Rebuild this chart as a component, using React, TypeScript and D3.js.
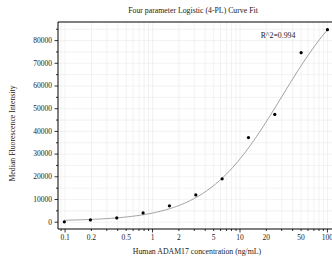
import React from "react";
import * as d3 from "d3";

const concentrations = [0.098, 0.195, 0.39, 0.78, 1.56, 3.125, 6.25, 12.5, 25, 50, 100];
const intensities = [150, 1000, 1900, 4100, 7200, 12000, 19100, 37300, 47500, 74700, 84800];
const xTickValues = [0.1, 0.2, 0.5, 1, 2, 5, 10, 20, 50, 100];
const yTickValues = [0, 10000, 20000, 30000, 40000, 50000, 60000, 70000, 80000];
// fitted 4PL parameters: bottom, top, EC50, slope
const fitA = 500;
const fitD = 110000;
const fitC = 30;
const fitB = 1.0;
const rSquared = "R^2=0.994";
const titleText = "Four parameter Logistic (4-PL) Curve Fit";
const xLabel = "Human ADAM17 concentration (ng/mL)";
const yLabel = "Median Fluorescence Intensity";

const W = 332, H = 264;
const left = 58, right = 335, top = 22, bottom = 229;
const font = "'Liberation Serif', 'Times New Roman', serif";

export default function App() {
  const x = d3.scaleLog().domain([0.083, 122]).range([left, right]);
  const y = d3.scaleLinear().domain([-3000, 88200]).range([bottom, top]);
  const fourPL = (c: number) => fitD + (fitA - fitD) / (1 + Math.pow(c / fitC, fitB));
  const curveXs = d3.range(0, 201).map(i => Math.pow(10, Math.log10(0.098) + (i / 200) * (Math.log10(100) - Math.log10(0.098))));
  const line = d3.line<number>().x(d => x(d)).y(d => y(fourPL(d)));

  const minorX: number[] = [];
  for (let e = -2; e <= 2; e++) for (let m = 1; m <= 9; m++) {
    const v = m * Math.pow(10, e);
    if (v >= 0.083 && v <= 122) minorX.push(v);
  }
  const yGrid = d3.range(0, 88001, 5000);
  const majorXs = [0.1, 1, 10, 100];

  return (
    <svg width={W} height={H} style={{ position: "absolute", left: 0, top: 0, background: "#fff" }} fontFamily={font}>
      <rect x={0} y={0} width={W} height={H} fill="#fff" />
      {minorX.map((v, i) => (
        <line key={"gx" + i} x1={x(v)} x2={x(v)} y1={top} y2={bottom} stroke="#ececec" strokeWidth={0.7} />
      ))}
      {yGrid.map((v, i) => (
        <line key={"gy" + i} x1={left} x2={right} y1={y(v)} y2={y(v)} stroke="#ececec" strokeWidth={0.7} />
      ))}
      <path d={line(curveXs) || ""} fill="none" stroke="#888" strokeWidth={0.8} />
      {concentrations.map((c, i) => (
        <circle key={"p" + i} cx={x(c)} cy={y(intensities[i])} r={1.6} fill="#000" />
      ))}
      <line x1={left} x2={right} y1={top} y2={top} stroke="#000" strokeWidth={1.2} />
      <line x1={left} x2={left} y1={top} y2={bottom} stroke="#000" strokeWidth={1} />
      <line x1={left} x2={right} y1={bottom} y2={bottom} stroke="#000" strokeWidth={1} />
      {yGrid.map((v, i) => (
        <line key={"yt" + i} x1={left - (v % 10000 === 0 ? 3.5 : 2)} x2={left} y1={y(v)} y2={y(v)} stroke="#000" strokeWidth={0.8} />
      ))}
      {yTickValues.map((v, i) => (
        <text key={"yl" + i} x={left - 6} y={y(v)} dy="0.32em" textAnchor="end" fontSize={7.5} fill="#222">{v}</text>
      ))}
      {minorX.map((v, i) => (
        <line key={"xt" + i} x1={x(v)} x2={x(v)} y1={bottom} y2={bottom + (majorXs.some(m => Math.abs(m - v) < 1e-9) ? 3.5 : 2)} stroke="#000" strokeWidth={0.8} />
      ))}
      {xTickValues.map((v, i) => (
        <text key={"xl" + i} x={x(v)} y={bottom + 11} textAnchor="middle" fontSize={7.5} fill="#222">{v}</text>
      ))}
      <text x={193} y={13} textAnchor="middle" fontSize={7.8} fill="#222">{titleText}</text>
      <text x={278} y={38} textAnchor="middle" fontSize={7.8} fill="#222">{rSquared}</text>
      <text x={197} y={254} textAnchor="middle" fontSize={7.8} fill="#222">{xLabel}</text>
      <text transform={`translate(15,${(top + bottom) / 2 + 8}) rotate(-90)`} textAnchor="middle" fontSize={7.8} fill="#222">{yLabel}</text>
    </svg>
  );
}
